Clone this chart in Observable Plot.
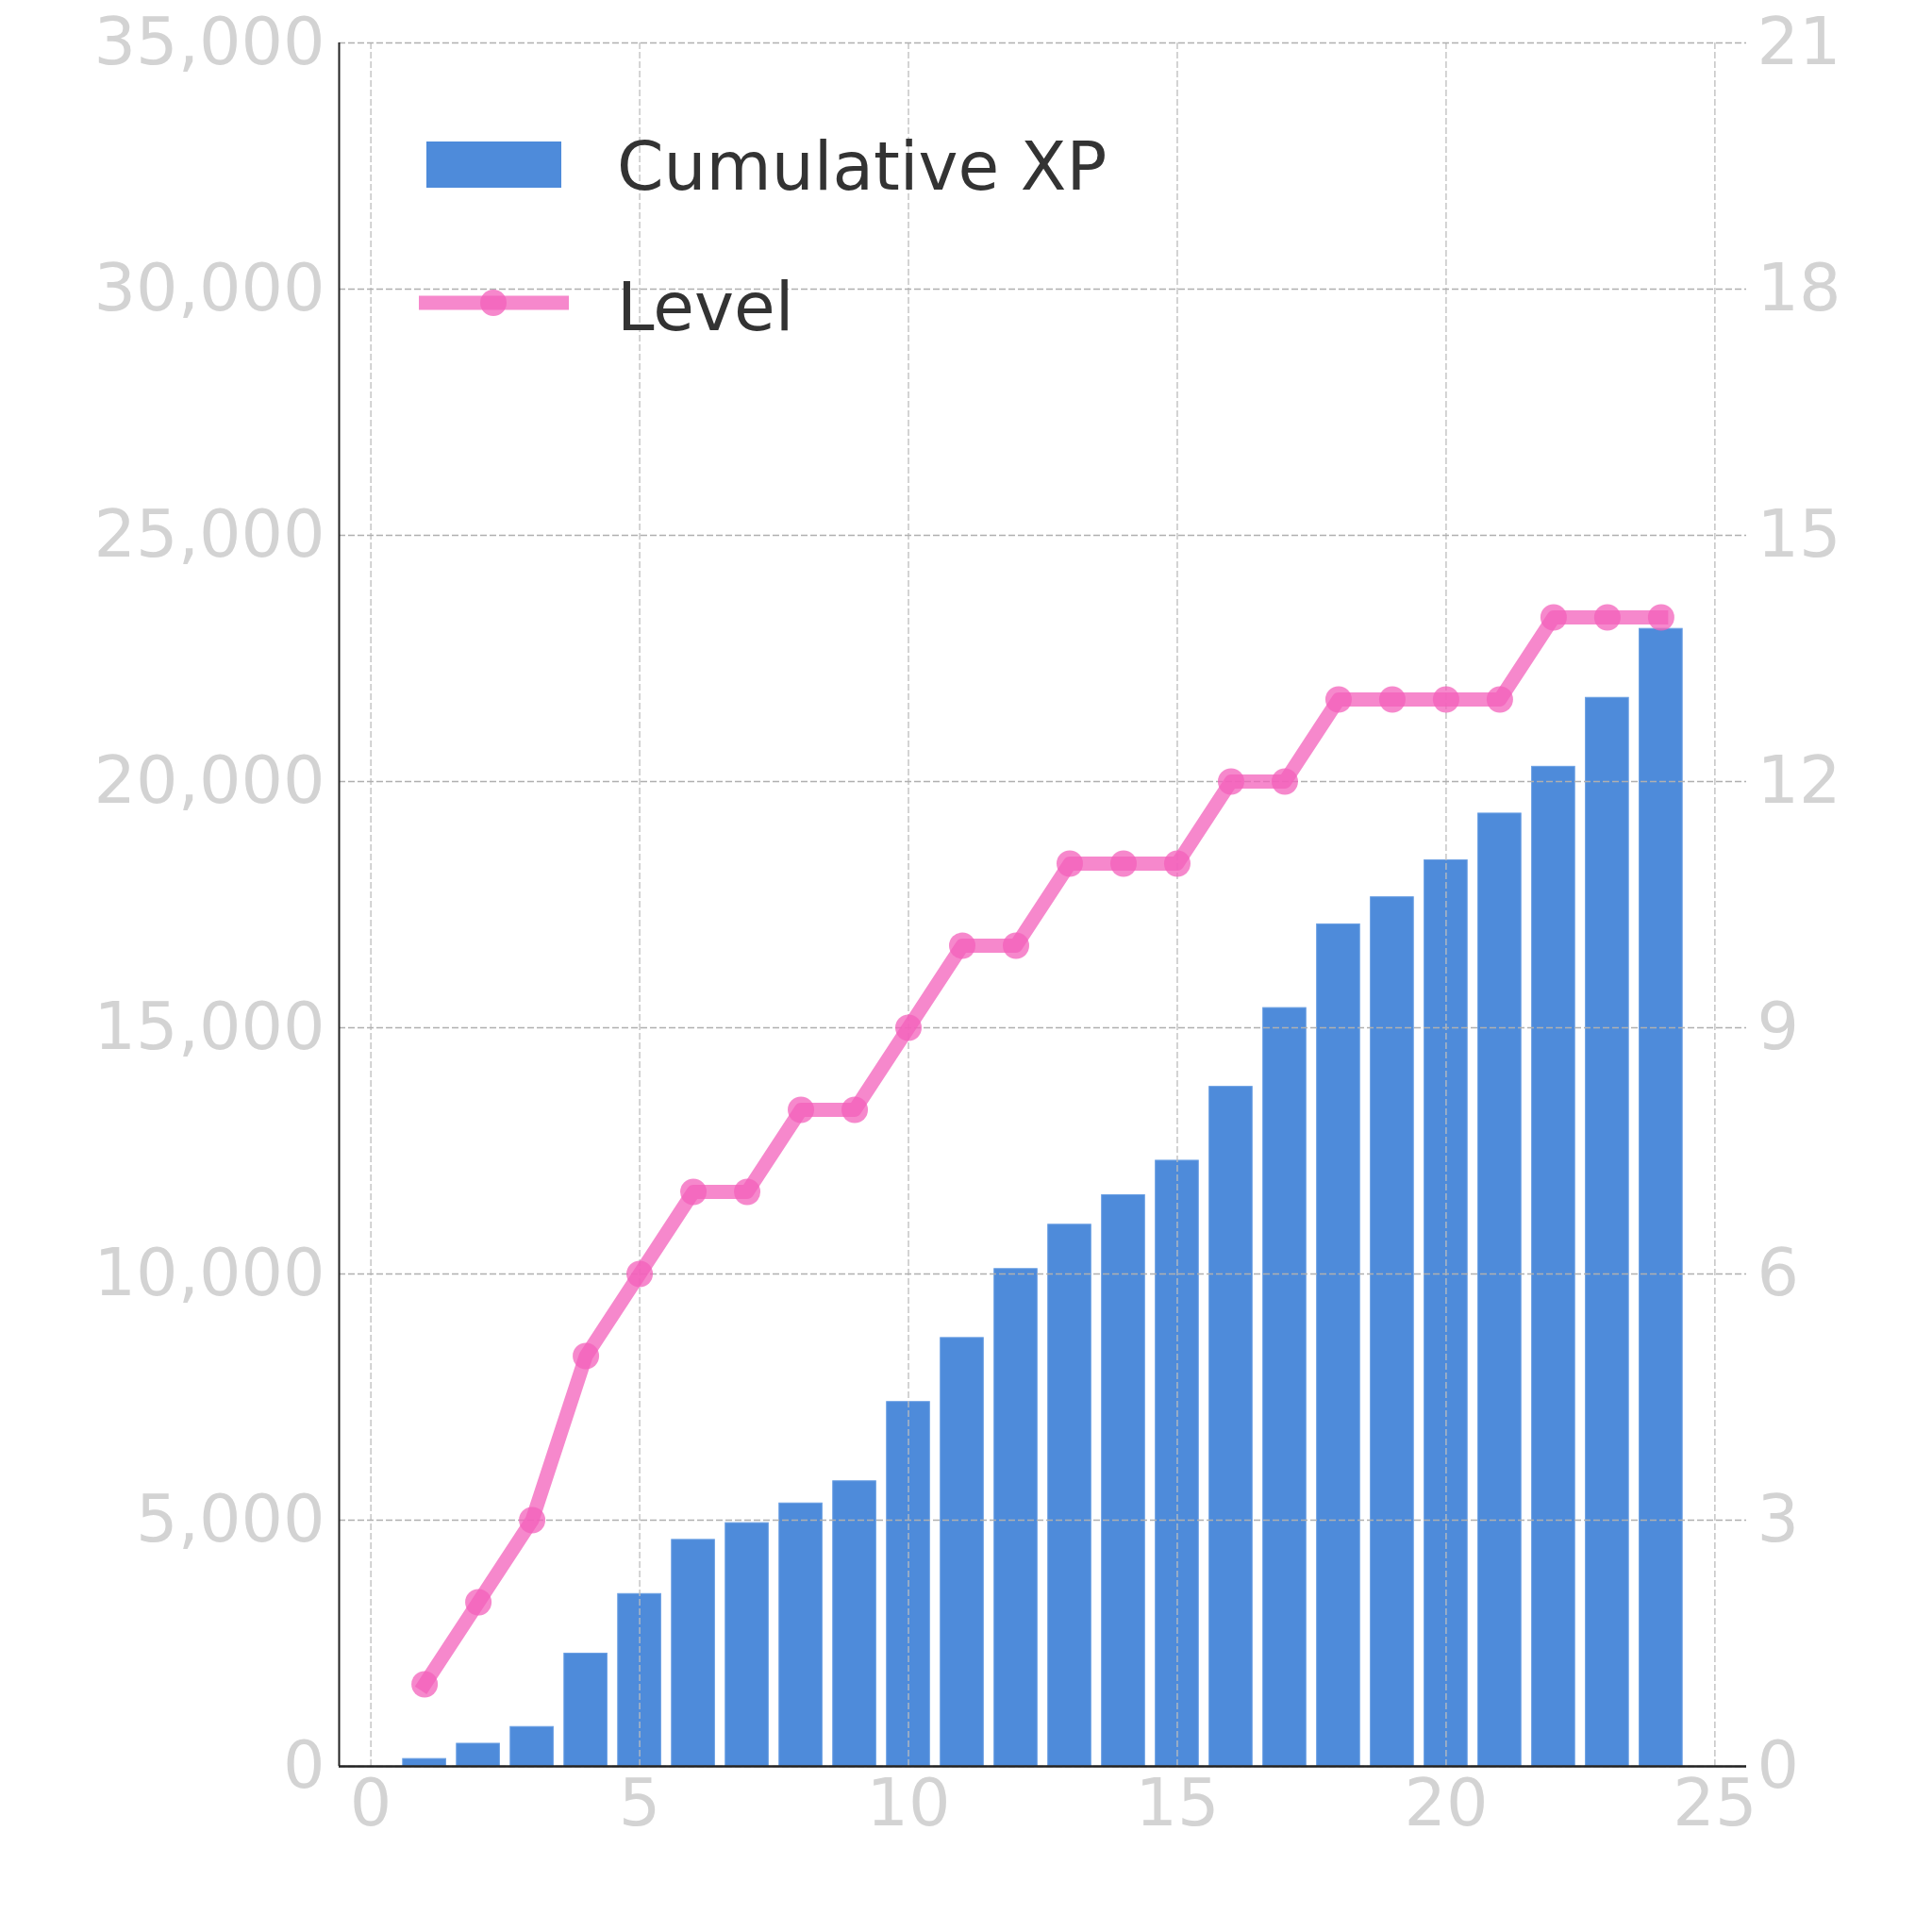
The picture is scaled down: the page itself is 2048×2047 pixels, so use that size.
<!DOCTYPE html>
<html>
<head>
<meta charset="utf-8">
<script src="https://cdn.jsdelivr.net/npm/d3@7"></script>
<script src="https://cdn.jsdelivr.net/npm/@observablehq/plot@0.6"></script>
<style>
  html, body { margin: 0; padding: 0; background: #fff; }
  #wrap { position: relative; width: 2048px; height: 2047px; font-family: "DejaVu Sans", sans-serif; }
  #legend { position: absolute; left: 0; top: 0; width: 2048px; height: 400px; pointer-events: none; }
</style>
</head>
<body>
<div id="wrap"></div>
<script>
// ---- data ----
const days = [1,2,3,4,5,6,7,8,9,10,11,12,13,14,15,16,17,18,19,20,21,22,23,24];
const cumulativeXP = [150,460,800,2290,3500,4600,4940,5340,5790,7400,8700,10100,11000,11600,12300,13800,15400,17100,17650,18400,19350,20300,21700,23100];
const levels = [1,2,3,5,6,7,7,8,8,9,10,10,11,11,11,12,12,13,13,13,13,14,14,14];
const xTicks = [0,5,10,15,20,25];
const xpTicks = [0,5000,10000,15000,20000,25000,30000,35000];
const levelTicks = [0,3,6,9,12,15,18,21];
const xDomain = [-0.59, 25.59];
const xpMax = 35000, levelMax = 21;

const rows = days.map((d, i) => ({day: d, xp: cumulativeXP[i], level: levels[i]}));
const lvl = v => v * xpMax / levelMax;

const barColor = "#4e8bda";
const pink = "#f360bb";
const tickColor = "#d3d3d3";

const plot = Plot.plot({
  width: 2048,
  height: 2047,
  marginLeft: 359,
  marginRight: 197,
  marginTop: 45,
  marginBottom: 175,
  style: {fontFamily: "DejaVu Sans", fontSize: "70px", background: "#fff", overflow: "visible"},
  x: {domain: xDomain, label: null},
  y: {domain: [0, xpMax], label: null},
  marks: [
    Plot.rectY(rows, {x1: d => d.day - 0.4, x2: d => d.day + 0.4, y1: 0, y2: "xp", fill: barColor, stroke: "#6a9fe3", strokeWidth: 1, insetLeft: 0, insetRight: 0}),
    Plot.gridX({ticks: xTicks, stroke: "#bdbdbd", strokeOpacity: 1, strokeWidth: 1.3, strokeDasharray: "7,3"}),
    Plot.gridY({ticks: xpTicks, stroke: "#b0b0b0", strokeOpacity: 1, strokeWidth: 1.3, strokeDasharray: "7,3"}),
    Plot.line(rows, {x: "day", y: d => lvl(d.level), stroke: pink, strokeOpacity: 0.75, strokeWidth: 15, strokeLinejoin: "round", strokeLinecap: "square"}),
    Plot.dot(rows, {x: "day", y: d => lvl(d.level), r: 14, fill: pink, fillOpacity: 0.75, stroke: "none"}),
    Plot.axisY({ticks: xpTicks, tickFormat: d3.format(","), tickSize: 0, tickPadding: 15, color: tickColor, fill: tickColor, fontSize: 70, label: null}),
    Plot.axisY({anchor: "right", ticks: xpTicks, tickFormat: d => String(Math.round(d * levelMax / xpMax)), tickSize: 0, tickPadding: 11, color: tickColor, fill: tickColor, fontSize: 70, label: null}),
    Plot.axisX({ticks: xTicks, tickSize: 0, tickPadding: 13, color: tickColor, fill: tickColor, fontSize: 70, label: null}),
    Plot.ruleY([0], {stroke: "#222", strokeWidth: 2.5}),
    Plot.ruleX([xDomain[0]], {stroke: "#222", strokeWidth: 2})
  ]
});

const wrap = document.getElementById("wrap");
wrap.appendChild(plot);

// legend overlay
const ns = "http://www.w3.org/2000/svg";
const leg = document.createElementNS(ns, "svg");
leg.setAttribute("id", "legend");
leg.setAttribute("width", 2048);
leg.setAttribute("height", 400);
leg.innerHTML = `
  <rect x="452" y="150" width="143" height="49" fill="${barColor}"/>
  <text x="654" y="201" font-family="DejaVu Sans" font-size="71" fill="#333">Cumulative XP</text>
  <line x1="444" x2="603" y1="321" y2="321" stroke="${pink}" stroke-opacity="0.75" stroke-width="15"/>
  <circle cx="523" cy="321" r="14" fill="${pink}" fill-opacity="0.75"/>
  <text x="654" y="350" font-family="DejaVu Sans" font-size="71" fill="#333">Level</text>
`;
wrap.appendChild(leg);
</script>
</body>
</html>
